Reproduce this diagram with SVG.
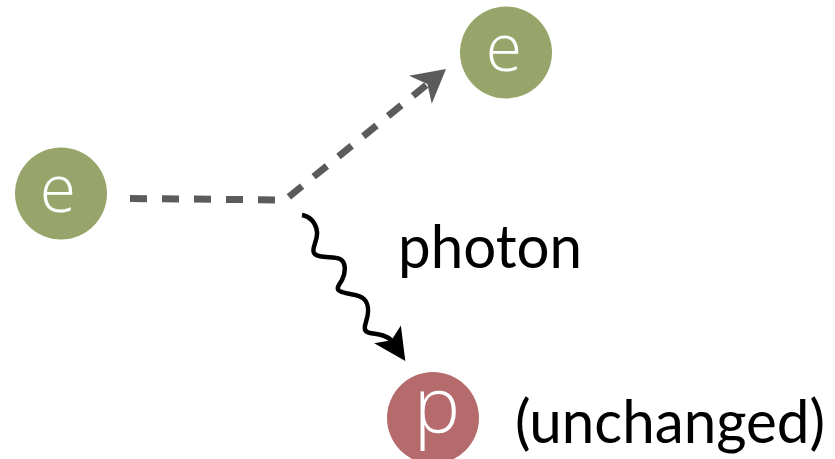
<svg xmlns="http://www.w3.org/2000/svg" width="835" height="459" viewBox="0 0 835 459">
<style>
.node-e{fill:#97a56a}
.node-p{fill:#b56b6b}
.ltr{fill:#ffffff;font-family:"Open Sans","Liberation Sans",sans-serif;font-weight:300;text-anchor:middle}
.lbl{fill:#000000;font-family:Lato,"Open Sans",sans-serif;font-size:60px}
.dash{fill:none;stroke:#5b5b5b;stroke-width:7;stroke-dasharray:17 15;stroke-linejoin:miter}
.wave{fill:none;stroke:#000000;stroke-width:4.5;stroke-linecap:butt}
</style>
<defs>
<marker id="arrGray" markerUnits="userSpaceOnUse" orient="-39.1" refX="0" refY="0" markerWidth="80" markerHeight="80" viewBox="-40 -40 80 80" overflow="visible">
<path d="M24,0 L-9,-18 L0,0 L-9,18 Z" fill="#5b5b5b"/>
</marker>
<marker id="arrBlack" markerUnits="userSpaceOnUse" orient="56.3" refX="0" refY="0" markerWidth="80" markerHeight="80" viewBox="-40 -40 80 80" overflow="visible">
<path d="M24,0 L-8,-16 L-1,0 L-8,16 Z" fill="#000000"/>
</marker>
</defs>
<g id="connectors">
<path class="dash" d="M130,198.5 L285,200 L427.4,84.1" marker-end="url(#arrGray)"/>
<path class="wave" d="M302,215 C309,216 316,222 317,232 C318,241 311,248 314,253 C318,259 333,256 340,259 C346,262 346,272 342,280 C338,286 335,290 342,292 C350,295 359,294 364,299 C370,305 368,316 366,322 C364,328 364,332 370,333 C376,334 386,334 392,341" marker-end="url(#arrBlack)"/>
</g>
<g id="node-e-left">
<circle class="node-e" cx="61" cy="193.5" r="46"/>
<text class="ltr" x="58" y="212" font-size="66">e</text>
</g>
<g id="node-e-top">
<circle class="node-e" cx="506" cy="52.5" r="46"/>
<text class="ltr" x="504" y="71" font-size="66">e</text>
</g>
<g id="node-p">
<circle class="node-p" cx="433" cy="418" r="46"/>
<text class="ltr" x="437" y="433" font-size="78">p</text>
</g>
<g id="labels">
<text class="lbl" x="398" y="268" textLength="184" lengthAdjust="spacingAndGlyphs">photon</text>
<text class="lbl" x="515" y="443" textLength="310" lengthAdjust="spacingAndGlyphs">(unchanged)</text>
</g>
</svg>
